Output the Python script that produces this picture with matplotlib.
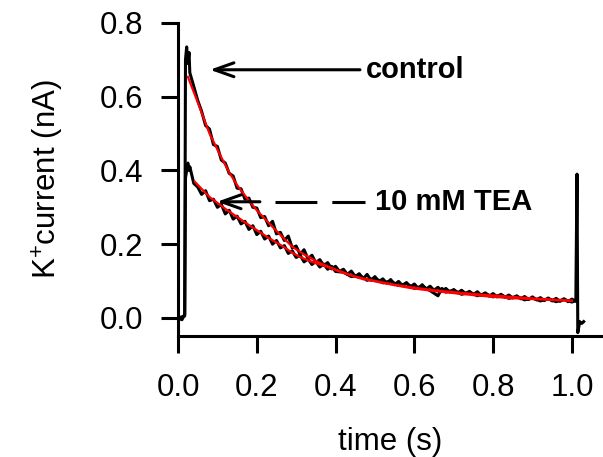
import matplotlib
matplotlib.use('Agg')
import matplotlib.pyplot as plt

plt.rcParams['font.family'] = ['Liberation Sans', 'DejaVu Sans']
plt.rcParams['mathtext.default'] = 'regular'

control_t = [0.000, 0.010, 0.017, 0.019, 0.022, 0.025, 0.028,
             0.03, 0.04, 0.05, 0.06, 0.07, 0.08, 0.09, 0.10, 0.11, 0.12,
             0.13, 0.14, 0.15, 0.16, 0.17, 0.18, 0.19, 0.20, 0.21, 0.22,
             0.23, 0.24, 0.25, 0.26, 0.27, 0.28, 0.29, 0.30, 0.31, 0.32,
             0.33, 0.34, 0.35, 0.36, 0.37, 0.38, 0.39, 0.40, 0.41, 0.42,
             0.43, 0.44, 0.45, 0.46, 0.47, 0.48, 0.49, 0.50, 0.51, 0.52,
             0.53, 0.54, 0.55, 0.56, 0.57, 0.58, 0.59, 0.60, 0.61, 0.62,
             0.63, 0.64, 0.65, 0.66, 0.67, 0.68, 0.69, 0.70, 0.71, 0.72,
             0.73, 0.74, 0.75, 0.76, 0.77, 0.78, 0.79, 0.80, 0.81, 0.82,
             0.83, 0.84, 0.85, 0.86, 0.87, 0.88, 0.89, 0.90, 0.91, 0.92,
             0.93, 0.94, 0.95, 0.96, 0.97, 0.98, 0.99, 1.00, 1.01,
             1.013, 1.015, 1.020, 1.025, 1.030]
control_i = [0.000, -0.005, 0.010, 0.700, 0.735, 0.690, 0.720,
             0.665, 0.628, 0.590, 0.560, 0.522, 0.512, 0.470, 0.465, 0.428, 0.420,
             0.392, 0.385, 0.352, 0.350, 0.322, 0.325, 0.300, 0.298, 0.272, 0.275,
             0.250, 0.262, 0.228, 0.232, 0.210, 0.222, 0.190, 0.195, 0.172, 0.185,
             0.160, 0.170, 0.150, 0.158, 0.142, 0.150, 0.133, 0.140, 0.126, 0.132,
             0.118, 0.127, 0.112, 0.120, 0.106, 0.118, 0.102, 0.112, 0.098, 0.106,
             0.094, 0.104, 0.090, 0.099, 0.087, 0.096, 0.084, 0.092, 0.080, 0.090,
             0.078, 0.086, 0.075, 0.083, 0.072, 0.080, 0.070, 0.077, 0.068, 0.075,
             0.066, 0.072, 0.063, 0.071, 0.061, 0.068, 0.059, 0.066, 0.057, 0.064,
             0.056, 0.062, 0.054, 0.060, 0.052, 0.058, 0.050, 0.057, 0.049, 0.055,
             0.047, 0.054, 0.046, 0.053, 0.045, 0.052, 0.044, 0.051, 0.045,
             0.390, -0.040, -0.010, -0.015, -0.010]

tea_t = [0.000, 0.017, 0.019, 0.025, 0.028,
         0.03, 0.04, 0.05, 0.06, 0.07, 0.08, 0.09, 0.10, 0.11, 0.12,
         0.13, 0.14, 0.15, 0.16, 0.17, 0.18, 0.19, 0.20, 0.21, 0.22,
         0.23, 0.24, 0.25, 0.26, 0.27, 0.28, 0.29, 0.30, 0.31, 0.32,
         0.33, 0.34, 0.35, 0.36, 0.37, 0.38, 0.39, 0.40, 0.42, 0.44,
         0.46, 0.48, 0.50, 0.52, 0.54, 0.56, 0.58, 0.60, 0.62, 0.64,
         0.66, 0.67, 0.68, 0.70, 0.72, 0.74, 0.76, 0.78, 0.80, 0.82,
         0.84, 0.86, 0.88, 0.90, 0.92, 0.94, 0.96, 0.98, 1.00, 1.01]
tea_i = [0.000, 0.005, 0.380, 0.420, 0.400,
         0.410, 0.365, 0.355, 0.335, 0.345, 0.318, 0.322, 0.300, 0.308, 0.282,
         0.292, 0.268, 0.276, 0.255, 0.262, 0.240, 0.250, 0.226, 0.235, 0.214,
         0.222, 0.200, 0.210, 0.190, 0.196, 0.175, 0.182, 0.164, 0.170, 0.152,
         0.160, 0.145, 0.153, 0.138, 0.146, 0.132, 0.140, 0.126, 0.124, 0.112,
         0.116, 0.102, 0.108, 0.095, 0.100, 0.088, 0.093, 0.080, 0.086, 0.074,
         0.060, 0.080, 0.070, 0.075, 0.064, 0.070, 0.060, 0.066, 0.057, 0.062,
         0.053, 0.058, 0.049, 0.054, 0.046, 0.052, 0.044, 0.050, 0.043, 0.047]

# exponential fits (red)
control_fit_t = [0.025, 0.05, 0.08, 0.11, 0.13, 0.15, 0.18, 0.20, 0.23, 0.26,
                 0.29, 0.32, 0.36, 0.40, 0.45, 0.50, 0.55, 0.60, 0.65, 0.70,
                 0.75, 0.80, 0.85, 0.90, 0.95, 1.00]
control_fit_i = [0.654, 0.585, 0.500, 0.435, 0.395, 0.360, 0.318, 0.292, 0.258, 0.225,
                 0.193, 0.172, 0.149, 0.131, 0.112, 0.100, 0.090, 0.082, 0.075, 0.070,
                 0.065, 0.061, 0.057, 0.053, 0.050, 0.047]

tea_fit_t = [0.043, 0.06, 0.08, 0.10, 0.12, 0.15, 0.18, 0.20, 0.23, 0.26,
             0.29, 0.31, 0.34, 0.38, 0.42, 0.46, 0.52, 0.59, 0.65, 0.72,
             0.78, 0.84, 0.92, 1.00]
tea_fit_i = [0.369, 0.350, 0.328, 0.312, 0.296, 0.274, 0.252, 0.238, 0.217, 0.198,
             0.177, 0.165, 0.152, 0.138, 0.122, 0.108, 0.095, 0.081, 0.073, 0.065,
             0.059, 0.054, 0.050, 0.046]

x_ticks = [0.0, 0.2, 0.4, 0.6, 0.8, 1.0]
y_ticks = [0.0, 0.2, 0.4, 0.6, 0.8]

fig = plt.figure(figsize=(6.03, 4.57), dpi=100)
ax = fig.add_axes([0.2952, 0.2648, 0.7048, 0.685])

ax.plot(control_t, control_i, color='black', lw=2.2)
ax.plot(tea_t, tea_i, color='black', lw=2.2)
ax.plot(control_fit_t, control_fit_i, color='red', lw=1.6)
ax.plot(tea_fit_t, tea_fit_i, color='red', lw=1.6)

ax.set_xlim(0, 1.079)
ax.set_ylim(-0.049, 0.8)
ax.set_xticks(x_ticks)
ax.set_yticks(y_ticks)
ax.set_xticklabels([f'{v:.1f}' for v in x_ticks])
ax.set_yticklabels([f'{v:.1f}' for v in y_ticks])

for side in ['top', 'right']:
    ax.spines[side].set_visible(False)
for side in ['left', 'bottom']:
    ax.spines[side].set_linewidth(2.2)
ax.tick_params(direction='out', length=12, width=2.2, labelsize=22.5)
ax.tick_params(axis='x', pad=15)
ax.tick_params(axis='y', pad=13)

ax.set_xlabel('time (s)', fontsize=22.5, labelpad=17)
ax.set_ylabel('K$^{+}$current (nA)', fontsize=22.5, labelpad=24)

# control arrow
ax.annotate('', xy=(0.081, 0.673), xytext=(0.462, 0.673),
            arrowprops=dict(arrowstyle='->,head_length=1.4,head_width=0.5',
                            lw=2.2, color='black', mutation_scale=10,
                            shrinkA=0, shrinkB=0))
ax.text(0.477, 0.673, 'control', fontsize=21, fontweight='bold',
        ha='left', va='center')

# TEA arrow: solid head + dashed shaft
ax.annotate('', xy=(0.099, 0.315), xytext=(0.208, 0.315),
            arrowprops=dict(arrowstyle='->,head_length=1.4,head_width=0.5',
                            lw=2.2, color='black', mutation_scale=10,
                            shrinkA=0, shrinkB=0))
ax.plot([0.246, 0.475], [0.315, 0.315], color='black', lw=2.2,
        dashes=(13.7, 4.9), dash_capstyle='butt')
ax.text(0.50, 0.315, '10 mM TEA', fontsize=21, fontweight='bold',
        ha='left', va='center')

fig.savefig('out.png', dpi=100)
